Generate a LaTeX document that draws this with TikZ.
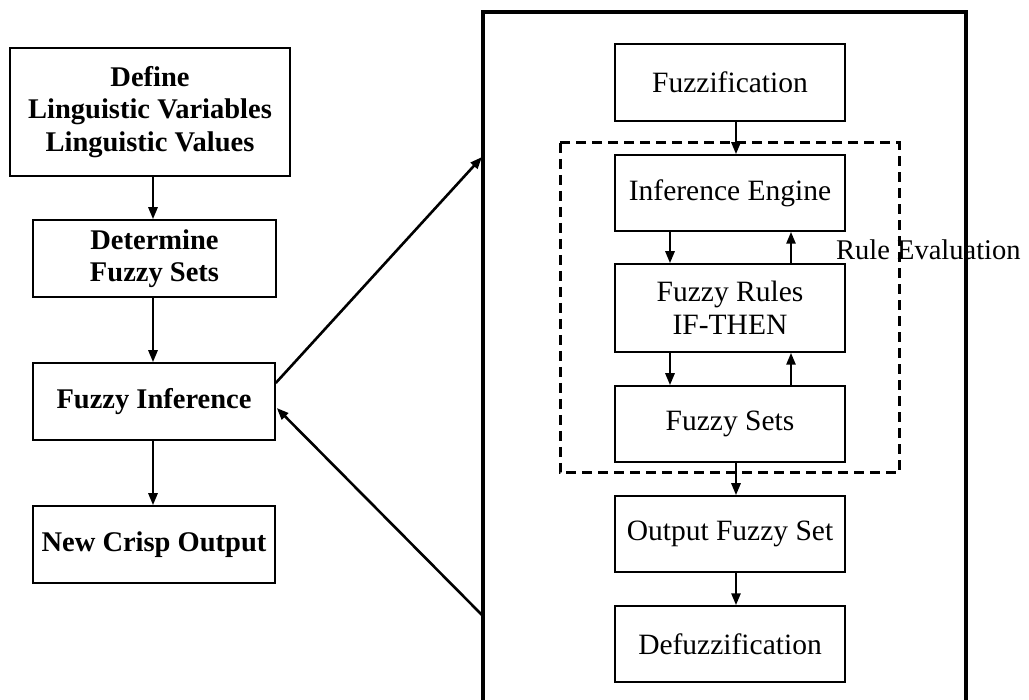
\documentclass[tikz,border=0pt]{standalone}
\usepackage{fontspec}
\setmainfont{Liberation Serif}
\usetikzlibrary{arrows.meta}

\tikzset{
  box/.style={draw, line width=1.5pt, inner sep=0pt, align=center,
    font=\fontsize{29.5}{33}\selectfont},
  boldbox/.style={box, font=\fontsize{28.5}{32.5}\selectfont\bfseries},
  flow/.style={line width=2.6pt, -{Triangle[length=12pt,width=9pt]}},
  frame/.style={line width=3.2pt},
  group/.style={draw, line width=3pt, dash pattern=on 10pt off 6pt},
}

\begin{document}
\begin{tikzpicture}[x=1pt, y=-1pt]
  \useasboundingbox (0,0) rectangle (1029,700);
  \clip (0,0) rectangle (1029,700);

  % left column: overall procedure
  \node[boldbox, minimum width=280pt, minimum height=128pt] (def) at (150,112)
    {Define\\Linguistic Variables\\Linguistic Values};
  \node[boldbox, minimum width=243pt, minimum height=77pt] (det) at (154.5,258.5)
    {Determine\\Fuzzy Sets};
  \node[boldbox, minimum width=242pt, minimum height=77pt] (inf) at (154,401.5)
    {Fuzzy Inference};
  \node[boldbox, minimum width=242pt, minimum height=77pt] (new) at (154,544.5)
    {New Crisp Output};

  \draw[flow] (def.south -| 153,0) -- (det.north -| 153,0);
  \draw[flow] (det.south -| 153,0) -- (inf.north -| 153,0);
  \draw[flow] (inf.south -| 153,0) -- (new.north -| 153,0);

  % right column: inference system
  \draw[frame] (483,710) -- (483,12) -- (966,12) -- (966,710);
  \coordinate (fin) at (482,157);
  \coordinate (fout) at (482,615);

  \node[box, minimum width=230pt, minimum height=77pt] (fz) at (730,82.5) {Fuzzification};
  \node[box, minimum width=230pt, minimum height=76pt] (ie) at (730,193) {Inference Engine};
  \node[box, minimum width=230pt, minimum height=88pt] (fr) at (730,308) {Fuzzy Rules\\IF-THEN};
  \node[box, minimum width=230pt, minimum height=76pt] (fs) at (730,424) {Fuzzy Sets};
  \node[box, minimum width=230pt, minimum height=76pt] (ofs) at (730,534) {Output Fuzzy Set};
  \node[box, minimum width=230pt, minimum height=76pt] (dfz) at (730,644) {Defuzzification};

  \draw[group] (560,143) rectangle (899,473);
  \node[anchor=base west, inner sep=0pt, font=\fontsize{28.5}{33}\selectfont] (rev) at (836,260)
    {Rule Evaluation};

  \draw[flow] (fz.south -| 736,0) -- (ie.north -| 736,0);
  \draw[flow] (ie.south -| 670,0) -- (fr.north -| 670,0);
  \draw[flow] (fr.north -| 791,0) -- (ie.south -| 791,0);
  \draw[flow] (fr.south -| 670,0) -- (fs.north -| 670,0);
  \draw[flow] (fs.north -| 791,0) -- (fr.south -| 791,0);
  \draw[flow] (fs.south -| 736,0) -- (ofs.north -| 736,0);
  \draw[flow] (ofs.south -| 736,0) -- (dfz.north -| 736,0);

  % links between the procedure and the inference system
  \draw[flow] (inf.east |- 0,383) -- (fin);
  \draw[flow] (fout) -- ([xshift=1pt]inf.east |- 0,408);
\end{tikzpicture}
\end{document}
